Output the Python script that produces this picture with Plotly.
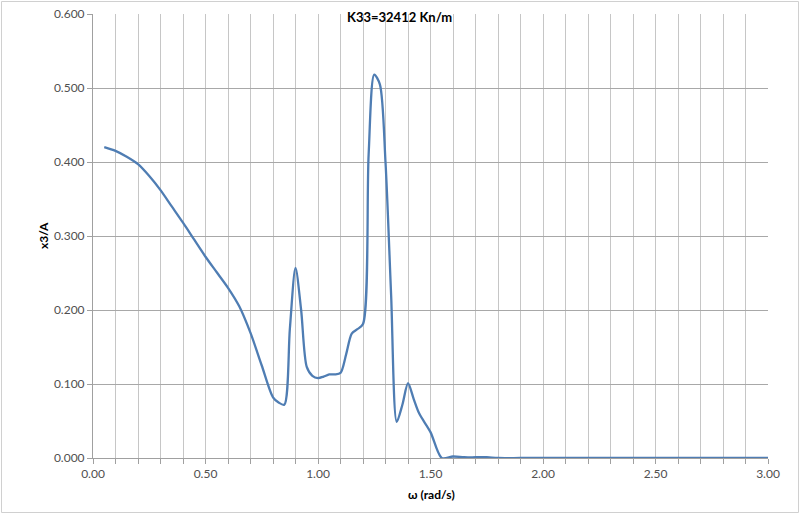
import plotly.graph_objects as go

# Data (omega in rad/s, x3/A)
omega = [0.05, 0.10, 0.15, 0.20, 0.25, 0.30, 0.35, 0.40, 0.45, 0.50,
         0.55, 0.60, 0.65, 0.70, 0.75, 0.80, 0.825, 0.85, 0.875, 0.90,
         0.925, 0.95, 0.975, 1.00, 1.025, 1.05, 1.075, 1.10, 1.125, 1.15,
         1.175, 1.20, 1.225, 1.25, 1.275, 1.30, 1.325, 1.35, 1.375, 1.40,
         1.425, 1.45, 1.50, 1.55, 1.60, 1.65, 1.70, 1.75, 1.80, 1.90,
         2.00, 2.10, 2.20, 2.30, 2.40, 2.50, 2.60, 2.70, 2.80, 2.90, 3.00]
x3_over_A = [0.420, 0.415, 0.407, 0.397, 0.381, 0.362, 0.340, 0.318, 0.295, 0.272,
             0.251, 0.230, 0.205, 0.169, 0.125, 0.082, 0.075, 0.072, 0.175, 0.257,
             0.200, 0.123, 0.111, 0.108, 0.110, 0.113, 0.113, 0.115, 0.140, 0.168,
             0.174, 0.181, 0.410, 0.518, 0.505, 0.400, 0.220, 0.049, 0.072, 0.101,
             0.080, 0.060, 0.035, 0.000, 0.002, 0.001, 0.001, 0.001, 0.000, 0.000,
             0.000, 0.000, 0.000, 0.000, 0.000, 0.000, 0.000, 0.000, 0.000, 0.000, 0.000]

title_text = "K33=32412 Kn/m"
x_title = "ω (rad/s)"
y_title = "x3/A"

FONT = "Lato, 'Open Sans', sans-serif"
L, R, T, B = 93, 32, 14, 56
PW, PH = 800 - L - R, 514 - T - B

fig = go.Figure()
fig.add_trace(go.Scatter(
    x=omega, y=x3_over_A, mode="lines",
    line=dict(color="#4F7DB3", width=2.3, shape="spline", smoothing=0.8),
    showlegend=False, hoverinfo="x+y",
))

fig.update_layout(
    width=800, height=514,
    margin=dict(l=L, r=R, t=T, b=B, pad=0),
    paper_bgcolor="white", plot_bgcolor="white",
    font=dict(family=FONT, size=12, color="#505050"),
    xaxis=dict(
        range=[0, 3.0], dtick=0.5, tickformat=".2f", automargin=False,
        showgrid=True, gridcolor="#c6c6c6", gridwidth=1,
        minor=dict(dtick=0.1, showgrid=True, gridcolor="#c6c6c6", gridwidth=1,
                   ticks="outside", ticklen=5, tickcolor="#a0a0a0"),
        ticks="outside", ticklen=5, tickcolor="#a0a0a0",
        showline=True, linecolor="#a0a0a0", linewidth=1,
        zeroline=False, fixedrange=True,
        tickfont=dict(size=12, color="#505050"),
    ),
    yaxis=dict(
        range=[0, 0.6], dtick=0.1, tickformat=".3f", automargin=False,
        showgrid=True, gridcolor="#a8a8a8", gridwidth=1,
        ticks="outside", ticklen=5, tickcolor="#a0a0a0",
        showline=True, linecolor="#a0a0a0", linewidth=1,
        zeroline=False, fixedrange=True,
        tickfont=dict(size=12, color="#505050"),
    ),
    annotations=[
        dict(text="<b>" + title_text + "</b>", xref="paper", yref="paper",
             x=(399 - L) / PW, y=(514 - B - 17) / PH, xanchor="center", yanchor="middle",
             showarrow=False, font=dict(family=FONT, size=13, color="#000000")),
        dict(text="<b>" + x_title + "</b>", xref="paper", yref="paper",
             x=(431 - L) / PW, y=(514 - B - 494) / PH, xanchor="center", yanchor="middle",
             showarrow=False, font=dict(family=FONT, size=12, color="#000000")),
        dict(text="<b>" + y_title + "</b>", xref="paper", yref="paper",
             x=(43 - L) / PW, y=0.5, xanchor="center", yanchor="middle",
             textangle=-90, showarrow=False,
             font=dict(family=FONT, size=12, color="#000000")),
    ],
    shapes=[
        dict(type="rect", xref="paper", yref="paper",
             x0=(1.5 - L) / PW, x1=(798.5 - L) / PW,
             y0=(514 - B - 512.5) / PH, y1=(514 - B - 1.5) / PH,
             line=dict(color="#d0d0d0", width=1), fillcolor="rgba(0,0,0,0)", layer="below"),
    ],
)

fig.write_html("out.html",
               config={"displayModeBar": False},
               post_script="document.body.style.margin='0';document.body.style.overflow='hidden';")
